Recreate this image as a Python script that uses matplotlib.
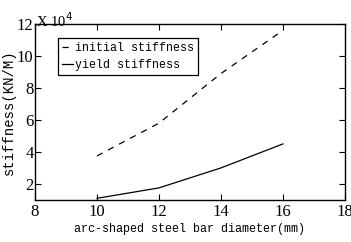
import matplotlib
matplotlib.use("Agg")
import matplotlib.pyplot as plt

# data (values in units of 1e4 KN/M)
diameter = [10, 12, 14, 16]
initial_stiffness = [3.75, 5.8, 8.9, 11.6]
yield_stiffness = [1.1, 1.75, 3.0, 4.5]

xticks = [8, 10, 12, 14, 16, 18]
yticks = [2, 4, 6, 8, 10, 12]

mono = "Liberation Mono"
serif = "Liberation Serif"

fig = plt.figure(figsize=(3.51, 2.42), dpi=100)
ax = fig.add_axes([0.0997, 0.174, 0.883, 0.727])

ax.plot(diameter, initial_stiffness, "k--", lw=0.9, dashes=(5, 5), label="initial stiffness")
ax.plot(diameter, yield_stiffness, "k-", lw=0.9, label="yield stiffness")

ax.set_xlim(8, 18)
ax.set_ylim(1, 12)
ax.set_xticks(xticks)
ax.set_yticks(yticks)
ax.set_xticklabels([str(v) for v in xticks], family=serif, fontsize=12)
ax.set_yticklabels([str(v) for v in yticks], family=serif, fontsize=12)
ax.tick_params(axis="x", direction="in", top=True, length=4, width=0.8, pad=3)
ax.tick_params(axis="y", direction="in", right=True, length=4, width=0.8, pad=1)
for s in ax.spines.values():
    s.set_linewidth(1.0)

ax.set_xlabel("arc-shaped steel bar diameter(mm)", family=mono, fontsize=8.5, labelpad=2)
ax.set_ylabel("stiffness(KN/M)", family=mono, fontsize=10, labelpad=1)

ax.text(0.003, 0.983, "X 10$^4$", transform=ax.transAxes, family=serif, fontsize=10.5,
        ha="left", va="baseline")

leg = ax.legend(loc="upper left", bbox_to_anchor=(0.074, 0.92), prop={"family": mono, "size": 8.4},
                handlelength=0.9, handletextpad=0.2, borderpad=0.35, labelspacing=0.45,
                fancybox=False, framealpha=1, edgecolor="black", borderaxespad=0)
leg.get_frame().set_linewidth(0.9)

fig.savefig("out.png", dpi=100)
